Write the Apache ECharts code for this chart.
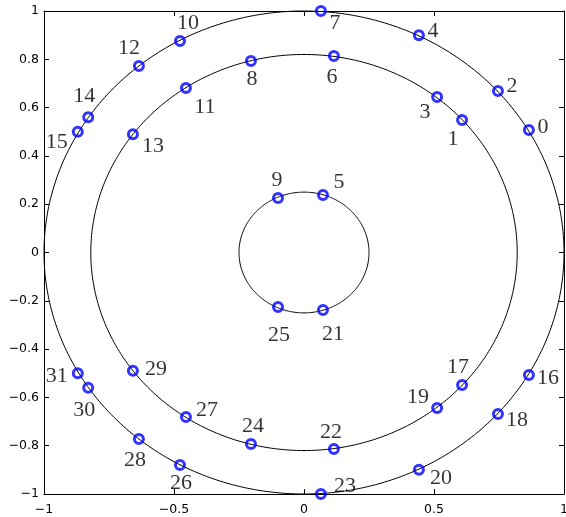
<!DOCTYPE html>
<html>
<head>
<meta charset="utf-8">
<script src="https://cdn.jsdelivr.net/npm/echarts@6/dist/echarts.min.js"></script>
<style>
  html, body { margin: 0; padding: 0; background: #fff; }
  #chart { width: 566px; height: 517px; }
</style>
</head>
<body>
<div id="chart"></div>
<script>
// point coordinates, index = label number
const ptX = [0.865, 0.608, 0.746, 0.512, 0.442, 0.073, 0.115, 0.065,
  -0.204, -0.100, -0.477, -0.454, -0.635, -0.658, -0.830, -0.870,
  0.865, 0.608, 0.746, 0.512, 0.442, 0.073, 0.115, 0.065,
  -0.204, -0.100, -0.477, -0.454, -0.635, -0.658, -0.830, -0.870];
const ptY = [0.507, 0.549, 0.669, 0.644, 0.900, 0.238, 0.814, 1.000,
  0.793, 0.226, 0.876, 0.681, 0.772, 0.490, 0.560, 0.500,
  -0.507, -0.549, -0.669, -0.644, -0.900, -0.238, -0.814, -1.000,
  -0.793, -0.226, -0.880, -0.681, -0.772, -0.490, -0.560, -0.500];
const radii = [1, 0.82, 0.25];

// where each number sits relative to its marker (px)
const labelOffsets = [
  [14, -3], [-9, 19], [14, -5], [-12, 15], [14, -4], [16, -13], [-2, 21], [14, 12],
  [1, 18], [-1, -18], [8, -18], [19, 19], [-10, -18], [20, 12], [-4, -21], [-21, 10],
  [19, 3], [-4, -18], [19, 6], [-19, -11], [22, 8], [10, 24], [-3, -17], [24, -8],
  [2, -18], [1, 28], [1, 18], [21, -7], [-4, 21], [23, -2], [-4, 22], [-21, 3]
];

const minus = v => String(v).replace('-', '\u2212');

let chart = echarts.init(document.getElementById('chart'));

let points = ptX.map((x, i) => ({
  name: String(i),
  value: [x, ptY[i]],
  label: { offset: labelOffsets[i] }
}));

let axisCommon = {
  min: -1, max: 1,
  axisLine: { show: true, onZero: false, lineStyle: { color: '#000', width: 1 } },
  axisTick: { show: true, inside: true, length: 5, lineStyle: { color: '#000' } },
  splitLine: { show: false },
  axisLabel: { color: '#000', fontFamily: 'DejaVu Sans', fontSize: 12.5 }
};

let option = {
  animation: false,
  grid: { left: 44, right: 2, top: 11, bottom: 23, outerBoundsMode: 'none', containLabel: false },
  xAxis: [
    Object.assign({}, axisCommon, {
      type: 'value', position: 'bottom', interval: 0.5,
      axisLabel: Object.assign({}, axisCommon.axisLabel, { margin: 9, formatter: minus })
    }),
    Object.assign({}, axisCommon, {
      type: 'value', position: 'top', interval: 0.5,
      axisLabel: { show: false }
    })
  ],
  yAxis: [
    Object.assign({}, axisCommon, {
      type: 'value', position: 'left', interval: 0.2,
      axisLabel: Object.assign({}, axisCommon.axisLabel, { margin: 5, formatter: minus })
    }),
    Object.assign({}, axisCommon, {
      type: 'value', position: 'right', interval: 0.2,
      axisLabel: { show: false }
    })
  ],
  series: [
    {
      type: 'custom',
      silent: true,
      data: radii.map(r => [0, 0, r]),
      renderItem: function (params, api) {
        let r = api.value(2);
        let pts = [];
        for (let k = 0; k <= 360; k++) {
          let a = k * Math.PI / 180;
          pts.push(api.coord([r * Math.cos(a), r * Math.sin(a)]));
        }
        return {
          type: 'polyline',
          shape: { points: pts },
          style: { stroke: '#000', lineWidth: 1, fill: null }
        };
      }
    },
    {
      type: 'scatter',
      symbol: 'circle',
      symbolSize: 9,
      data: points,
      itemStyle: { color: 'rgba(0,0,0,0)', borderColor: '#0000ff', borderWidth: 3 },
      label: {
        show: true,
        position: 'inside',
        formatter: '{b}',
        color: '#000',
        fontFamily: 'Liberation Serif',
        fontSize: 22
      },
      z: 5
    }
  ]
};
chart.setOption(option, true);
</script>
</body>
</html>
